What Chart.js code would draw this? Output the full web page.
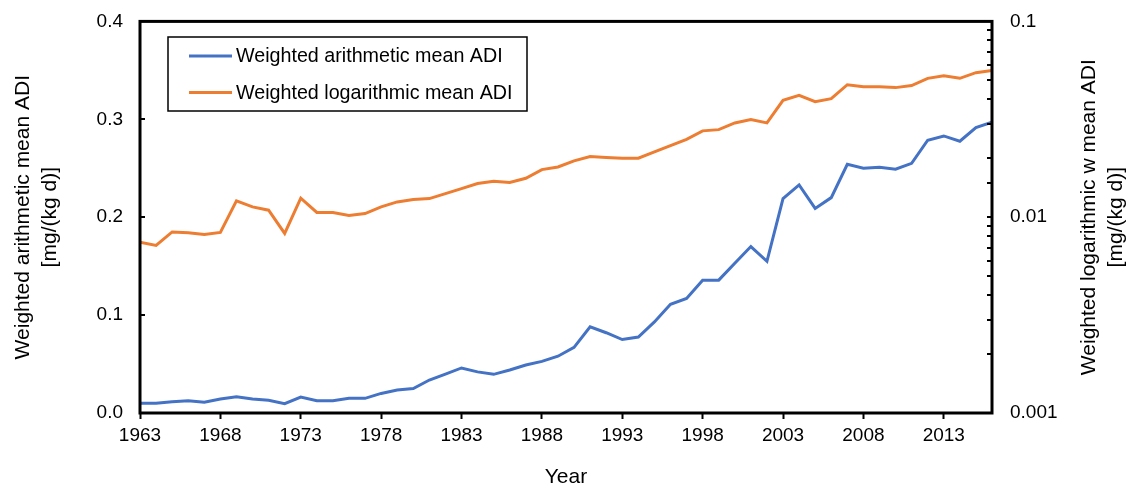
<!DOCTYPE html>
<html>
<head>
<meta charset="utf-8">
<script src="https://cdn.jsdelivr.net/npm/chart.js@4/dist/chart.umd.min.js"></script>
<style>
  body { margin: 0; background: #fff; }
  canvas { display: block; }
</style>
</head>
<body>
<canvas id="chart" width="1132" height="489"></canvas>
<script>
// data
const years = [
  1963, 1964, 1965, 1966, 1967, 1968, 1969, 1970, 1971, 1972,
  1973, 1974, 1975, 1976, 1977, 1978, 1979, 1980, 1981, 1982,
  1983, 1984, 1985, 1986, 1987, 1988, 1989, 1990, 1991, 1992,
  1993, 1994, 1995, 1996, 1997, 1998, 1999, 2000, 2001, 2002,
  2003, 2004, 2005, 2006, 2007, 2008, 2009, 2010, 2011, 2012,
  2013, 2014, 2015, 2016
];
const arithMean = [
  0.0100, 0.0100, 0.0115, 0.0126, 0.0110, 0.0143, 0.0166, 0.0143, 0.0130, 0.0095,
  0.0163, 0.0126, 0.0126, 0.0150, 0.0150, 0.0200, 0.0235, 0.0250, 0.0337, 0.0398,
  0.0460, 0.0420, 0.0395, 0.0439, 0.0490, 0.0527, 0.0580, 0.0670, 0.0880, 0.0820,
  0.0750, 0.0776, 0.0930, 0.1110, 0.1170, 0.1357, 0.1357, 0.1530, 0.1700, 0.1550,
  0.2190, 0.2330, 0.2090, 0.2200, 0.2540, 0.2500, 0.2510, 0.2490, 0.2550, 0.2786,
  0.2830, 0.2776, 0.2915, 0.2970
];
const logMean = [
  0.00746, 0.00717, 0.00841, 0.00832, 0.00816, 0.00836, 0.01211, 0.01129, 0.01086, 0.00826,
  0.01250, 0.01057, 0.01057, 0.01020, 0.01044, 0.01129, 0.01197, 0.01230, 0.01245, 0.01320,
  0.01400, 0.01486, 0.01527, 0.01503, 0.01580, 0.01750, 0.01806, 0.01939, 0.02040, 0.02020,
  0.02000, 0.02000, 0.02155, 0.02320, 0.02500, 0.02760, 0.02800, 0.03030, 0.03150, 0.03030,
  0.03950, 0.04190, 0.03890, 0.04030, 0.04750, 0.04640, 0.04640, 0.04590, 0.04700, 0.05120,
  0.05280, 0.05120, 0.05470, 0.05620
];
const xTickYears = [1963, 1968, 1973, 1978, 1983, 1988, 1993, 1998, 2003, 2008, 2013];
const seriesNames = ['Weighted arithmetic mean ADI', 'Weighted logarithmic mean ADI'];
const leftTitle = ['Weighted arithmetic mean ADI', '[mg/(kg d)]'];
const rightTitle = ['Weighted logarithmic w mean ADI', '[mg/(kg d)]'];
const xTitle = 'Year';

const FONT = '"Liberation Sans", Arial, sans-serif';
const BLUE = '#4472C4';
const ORANGE = '#ED7D31';

// box, inward ticks, legend and axis titles
const decorations = {
  id: 'decorations',
  afterDraw(chart) {
    const ctx = chart.ctx;
    const a = chart.chartArea;
    ctx.save();

    ctx.strokeStyle = '#000';
    ctx.lineWidth = 3;
    ctx.strokeRect(a.left, a.top, a.right - a.left, a.bottom - a.top);

    // inward tick marks
    ctx.lineWidth = 2;
    ctx.beginPath();
    chart.scales.y.ticks.forEach(t => {
      const py = Math.round(chart.scales.y.getPixelForValue(t.value));
      ctx.moveTo(a.left, py);
      ctx.lineTo(a.left + 5, py);
    });
    chart.scales.y2.ticks.forEach(t => {
      const py = Math.round(chart.scales.y2.getPixelForValue(t.value));
      ctx.moveTo(a.right, py);
      ctx.lineTo(a.right - 5, py);
    });
    ctx.stroke();

    // legend
    ctx.lineWidth = 1.5;
    ctx.strokeRect(168, 37, 359, 74);
    ctx.font = '19.7px ' + FONT;
    ctx.fillStyle = '#000';
    ctx.textAlign = 'left';
    ctx.textBaseline = 'middle';
    chart.data.datasets.forEach((ds, i) => {
      const ly = 56 + i * 36.5;
      ctx.strokeStyle = ds.borderColor;
      ctx.lineWidth = 3;
      ctx.beginPath();
      ctx.moveTo(189, ly);
      ctx.lineTo(232, ly);
      ctx.stroke();
      ctx.fillText(ds.label, 236, ly + 1);
    });

    // axis titles
    ctx.font = '21px ' + FONT;
    ctx.textAlign = 'center';
    ctx.fillText(xTitle, (a.left + a.right) / 2, 477);
    const midY = (a.top + a.bottom) / 2;
    [[23, leftTitle[0]], [50, leftTitle[1]], [1089, rightTitle[0]], [1116, rightTitle[1]]].forEach(([tx, txt]) => {
      ctx.save();
      ctx.translate(tx, midY);
      ctx.rotate(-Math.PI / 2);
      ctx.fillText(txt, 0, 0);
      ctx.restore();
    });

    ctx.restore();
  }
};

new Chart(document.getElementById('chart'), {
  type: 'line',
  data: {
    labels: years,
    datasets: [
      {
        label: seriesNames[0],
        data: arithMean,
        yAxisID: 'y',
        borderColor: BLUE,
        backgroundColor: BLUE,
        borderWidth: 3,
        pointRadius: 0,
        tension: 0
      },
      {
        label: seriesNames[1],
        data: logMean,
        yAxisID: 'y2',
        borderColor: ORANGE,
        backgroundColor: ORANGE,
        borderWidth: 3,
        pointRadius: 0,
        tension: 0
      }
    ]
  },
  options: {
    responsive: false,
    animation: false,
    layout: { padding: { top: 12, left: 0, right: 0, bottom: 0 } },
    plugins: {
      legend: { display: false },
      tooltip: { enabled: false }
    },
    scales: {
      x: {
        type: 'linear',
        min: 1963,
        max: 2016,
        afterBuildTicks: s => { s.ticks = xTickYears.map(v => ({ value: v })); },
        afterFit: s => { s.height = 76; },
        ticks: {
          color: '#000',
          font: { family: FONT, size: 19 },
          padding: 5,
          maxRotation: 0,
          autoSkip: false,
          callback: v => String(v)
        },
        grid: { drawOnChartArea: false, tickLength: 6, tickColor: '#000', tickWidth: 2 },
        border: { display: false }
      },
      y: {
        position: 'left',
        min: 0,
        max: 0.4,
        afterFit: s => { s.width = 140; },
        ticks: {
          stepSize: 0.1,
          color: '#000',
          font: { family: FONT, size: 19 },
          padding: 9,
          callback: v => v.toFixed(1)
        },
        grid: { display: false },
        border: { display: false }
      },
      y2: {
        type: 'logarithmic',
        position: 'right',
        min: 0.001,
        max: 0.1,
        afterFit: s => { s.width = 140; },
        ticks: {
          color: '#000',
          font: { family: FONT, size: 19 },
          padding: 10,
          autoSkip: false,
          callback: v => {
            const e = Math.log10(v);
            return Math.abs(e - Math.round(e)) < 1e-9 ? String(Number(v.toPrecision(1))) : '';
          }
        },
        grid: { display: false },
        border: { display: false }
      }
    }
  },
  plugins: [decorations]
});
</script>
</body>
</html>
